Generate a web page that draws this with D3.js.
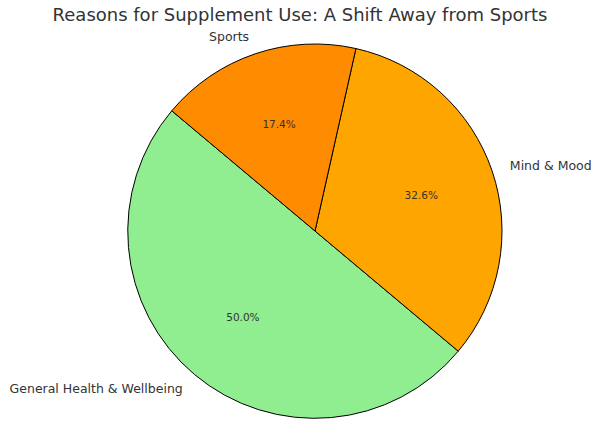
<!DOCTYPE html>
<html><head><meta charset="utf-8">
<script src="https://cdn.jsdelivr.net/npm/d3@7"></script>
<style>body{margin:0;background:#fff}</style></head>
<body><svg id="c" width="600" height="443"></svg>
<script>
const categories=["General Health & Wellbeing","Mind & Mood","Sports"];
const values=[50.0,32.6,17.4];
const colors=["#90EE90","#FFA500","#FF8C00"];
const svg=d3.select("#c");
const cx=315,cy=231,R=187,start=140;
svg.append("text").attr("x",300).attr("y",21).attr("text-anchor","middle")
 .attr("font-family","DejaVu Sans").attr("font-size",18).attr("fill","#333")
 .text("Reasons for Supplement Use: A Shift Away from Sports");
const g=svg.append("g").attr("transform",`translate(${cx},${cy})`);
const pie=d3.pie().sort(null).value(d=>d)(values);
const total=d3.sum(values);
const rad=Math.PI/180;
const arc=d3.arc().innerRadius(0).outerRadius(R);
pie.forEach((p,i)=>{
  const f0=p.startAngle/(2*Math.PI), f1=p.endAngle/(2*Math.PI);
  const t1=start+f0*360, t2=start+f1*360;
  g.append("path").attr("d",arc({startAngle:(90-t2)*rad,endAngle:(90-t1)*rad}))
   .attr("fill",colors[i]).attr("stroke","#000").attr("stroke-width",1);
  const tm=(t1+t2)/2*rad;
  const lx=1.1*R*Math.cos(tm), ly=-1.1*R*Math.sin(tm);
  g.append("text").attr("x",lx).attr("y",ly).attr("dy","0.35em")
   .attr("text-anchor",lx>=0?"start":"end").attr("font-family","DejaVu Sans")
   .attr("font-size",12.5).attr("fill","#333").text(categories[i]);
  g.append("text").attr("x",0.6*R*Math.cos(tm)).attr("y",-0.6*R*Math.sin(tm)).attr("dy","0.35em")
   .attr("text-anchor","middle").attr("font-family","DejaVu Sans")
   .attr("font-size",10.5).attr("fill","#333").text((values[i]/total*100).toFixed(1)+"%");
});
</script></body></html>
